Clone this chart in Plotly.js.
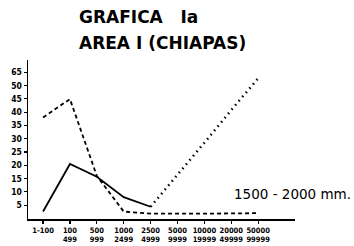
<!DOCTYPE html>
<html>
<head>
<meta charset="utf-8">
<script src="https://cdn.plot.ly/plotly-3.0.1.min.js"></script>
<style>
html,body{margin:0;padding:0;background:#fff;}
#chart{width:354px;height:246px;}
</style>
</head>
<body>
<div id="chart"></div>
<script>
// Categories (population size classes)
const categories = ['1-100','100-499','500-999','1000-2499','2500-4999','5000-9999','10000-19999','20000-49999','50000-99999'];
const xTickText = ['1-100','100<br>499','500<br>999','1000<br>2499','2500<br>4999','5000<br>9999','10000<br>19999','20000<br>49999','50000<br>99999'];
// Series values
const solidValues  = [2.6, 20.5, 15.7, 8.0, 4.4, null, null, null, null];
const dashedValues = [38.0, 44.9, 16.0, 2.6, 1.8, 1.7, 1.8, 1.9, 2.0];
const dottedValues = [null, null, null, null, 4.4, 16.3, 28.5, 40.8, 52.7];
// Y tick labels
const yTickVals = [5,10,15,20,25,30,35,40,45,50,55];
const yTickText = ['5','10','15','20','25','30','35','40','45','50','65'];

const idx = categories.map((c,i)=>i);
const xTickFont = {family:'DejaVu Sans Condensed, DejaVu Sans', size:7.5, color:'#000', weight:'bold'};
const yTickFont = {family:'DejaVu Sans Condensed, DejaVu Sans', size:8.5, color:'#000', weight:'bold'};

const traces = [
  {x: idx, y: solidValues, mode:'lines', line:{color:'#000', width:1.8}, connectgaps:false},
  {x: idx, y: dashedValues, mode:'lines', line:{color:'#000', width:1.8, dash:'4px,3px'}},
  {x: idx, y: dottedValues, mode:'lines', line:{color:'#000', width:2.5, dash:'1.5px,4px'}}
];

const layout = {
  width:354, height:246,
  margin:{l:28, r:59, t:60, b:27},
  paper_bgcolor:'#fff', plot_bgcolor:'#fff',
  showlegend:false,
  xaxis:{
    range:[-0.56, 9.37],
    tickvals: idx, ticktext: xTickText,
    showgrid:false, zeroline:false,
    showline:true, linecolor:'#000', linewidth:1.5,
    ticks:'outside', ticklen:3, tickcolor:'#000', tickwidth:1.2,
    tickfont: xTickFont, tickangle:0
  },
  yaxis:{
    range:[-0.2, 59.6],
    tickvals: yTickVals, ticktext: yTickText,
    showgrid:false, zeroline:false,
    showline:true, linecolor:'#000', linewidth:1.5,
    ticks:'outside', ticklen:3, tickcolor:'#000', tickwidth:1.2,
    tickfont: yTickFont
  },
  annotations:[
    {text:'GRAFICA&nbsp;&nbsp;&nbsp;Ia', xref:'paper', yref:'paper', x:0.1835, y:1.27, xanchor:'left', yanchor:'middle', showarrow:false,
     font:{family:'DejaVu Sans', size:17, color:'#000', weight:'bold'}},
    {text:'AREA I (CHIAPAS)', xref:'paper', yref:'paper', x:0.1835, y:1.107, xanchor:'left', yanchor:'middle', showarrow:false,
     font:{family:'DejaVu Sans', size:17, color:'#000', weight:'bold'}},
    {text:'1500 - 2000 mm.', xref:'paper', yref:'paper', x:0.764, y:0.157, xanchor:'left', yanchor:'middle', showarrow:false,
     font:{family:'DejaVu Sans', size:13.5, color:'#000'}}
  ]
};

Plotly.newPlot('chart', traces, layout, {staticPlot:true, displayModeBar:false});
</script>
</body>
</html>
